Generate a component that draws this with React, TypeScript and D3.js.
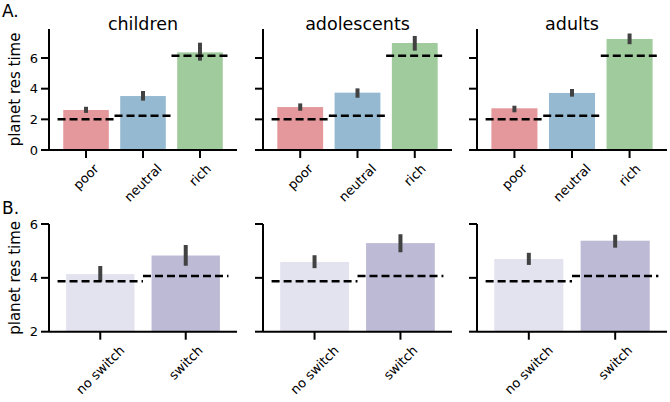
import React from "react";
import * as d3 from "d3";

const groups = ["children", "adolescents", "adults"];
const wealthCats = ["poor", "neutral", "rich"];
const wealthMeans = [[2.61, 3.52, 6.37], [2.80, 3.74, 6.98], [2.72, 3.72, 7.24]];
const wealthLo = [[2.42, 3.22, 5.83], [2.56, 3.41, 6.48], [2.46, 3.48, 6.90]];
const wealthHi = [[2.82, 3.85, 7.00], [3.04, 4.02, 7.44], [2.89, 3.98, 7.60]];
const wealthBaseline = [2.0, 2.24, 6.15];
const wealthTicks = [0, 2, 4, 6];
const wealthColors = ["#e4989b", "#95b9d1", "#a0cb9c"];

const switchCats = ["no switch", "switch"];
const switchMeans = [[4.14, 4.83], [4.59, 5.29], [4.70, 5.38]];
const switchLo = [[3.86, 4.45], [4.36, 4.95], [4.48, 5.12]];
const switchHi = [[4.44, 5.22], [4.84, 5.62], [4.93, 5.60]];
const switchBaseline = [3.87, 4.07];
const switchTicks = [2, 4, 6];
const switchColors = ["#e3e2ef", "#bdbad6"];

const FONT = "DejaVu Sans";
const panelX: [number, number][] = [[49, 237], [263, 452], [477, 667]];

let ctx: CanvasRenderingContext2D | null = null;
function measure(t: string, size: number) {
  if (!ctx) ctx = document.createElement("canvas").getContext("2d");
  if (!ctx) return t.length * size * 0.6;
  ctx.font = `${size}px "${FONT}"`;
  return ctx.measureText(t).width;
}

type RowProps = {
  cats: string[];
  means: number[][];
  lo: number[][];
  hi: number[][];
  baseline: number[];
  ticks: number[];
  colors: string[];
  yDomain: [number, number];
  yRange: [number, number];
  xPad: number;
  showTitles: boolean;
};

function Row(p: RowProps) {
  const y = d3.scaleLinear().domain(p.yDomain).range(p.yRange);
  const n = p.cats.length;
  const tickLen = 8;
  const fs = 13;
  return (
    <g>
      {panelX.map(([x0, x1], gi) => {
        const x = d3.scaleLinear().domain([-0.5 - p.xPad, n - 0.5 + p.xPad]).range([x0, x1]);
        const unit = x(1) - x(0);
        const bw = unit * 0.8;
        const yb = y(p.yDomain[0]);
        const yt = y(p.yDomain[1]);
        return (
          <g key={gi}>
            {p.cats.map((c, i) => (
              <rect key={"b" + i} x={x(i) - bw / 2} y={y(p.means[gi][i])} width={bw}
                height={yb - y(p.means[gi][i])} fill={p.colors[i]} />
            ))}
            {p.cats.map((c, i) => (
              <line key={"e" + i} x1={x(i)} x2={x(i)} y1={y(p.lo[gi][i])} y2={y(p.hi[gi][i])}
                stroke="#424242" strokeWidth={4} />
            ))}
            {p.cats.map((c, i) => (
              <line key={"d" + i} x1={x(i - 0.5)} x2={x(i + 0.5)} y1={y(p.baseline[i])} y2={y(p.baseline[i])}
                stroke="#000" strokeWidth={2.5} strokeDasharray="8,4" />
            ))}
            <line x1={x0} x2={x0} y1={yb} y2={yt} stroke="#000" strokeWidth={2} />
            <line x1={x0} x2={x1} y1={yb} y2={yb} stroke="#000" strokeWidth={2} />
            {p.ticks.map((t) => (
              <g key={"yt" + t}>
                <line x1={x0 - tickLen} x2={x0} y1={y(t)} y2={y(t)} stroke="#000" strokeWidth={2} />
                {gi === 0 && (
                  <text x={x0 - tickLen - 3} y={y(t)} textAnchor="end" dominantBaseline="central"
                    fontFamily={FONT} fontSize={fs} fill="#000">{t}</text>
                )}
              </g>
            ))}
            {p.cats.map((c, i) => {
              const w = measure(c, fs);
              const h = fs * 1.17;
              const H = (w + h) / Math.SQRT2;
              const cy = yb + tickLen + 3 + H / 2;
              return (
                <g key={"xt" + i}>
                  <line x1={x(i)} x2={x(i)} y1={yb} y2={yb + tickLen} stroke="#000" strokeWidth={2} />
                  <text x={x(i)} y={cy} textAnchor="middle" dominantBaseline="central"
                    transform={`rotate(-45 ${x(i)} ${cy})`} fontFamily={FONT} fontSize={fs} fill="#000">{c}</text>
                </g>
              );
            })}
            {p.showTitles && (
              <text x={(x0 + x1) / 2} y={30} textAnchor="middle" fontFamily={FONT} fontSize={17.5} fill="#000">
                {groups[gi]}
              </text>
            )}
          </g>
        );
      })}
      <text transform={`translate(20 ${(p.yRange[0] + p.yRange[1]) / 2}) rotate(-90)`} textAnchor="middle"
        fontFamily={FONT} fontSize={15} fill="#000">planet res time</text>
    </g>
  );
}

export default function App() {
  return (
    <svg width={670} height={402} style={{ position: "fixed", left: 0, top: 0, background: "#fff" }}>
      <rect width={670} height={402} fill="#fff" />
      <text x={2} y={17} fontFamily={FONT} fontSize={17} fill="#000">A.</text>
      <text x={2} y={214} fontFamily={FONT} fontSize={17} fill="#000">B.</text>
      <Row cats={wealthCats} means={wealthMeans} lo={wealthLo} hi={wealthHi} baseline={wealthBaseline}
        ticks={wealthTicks} colors={wealthColors} yDomain={[0, 7.9]} yRange={[150, 150 - 7.9 * 15.33]}
        xPad={0.15} showTitles={true} />
      <Row cats={switchCats} means={switchMeans} lo={switchLo} hi={switchHi} baseline={switchBaseline}
        ticks={switchTicks} colors={switchColors} yDomain={[2, 6]} yRange={[331.7, 224]}
        xPad={0.1} showTitles={false} />
    </svg>
  );
}
